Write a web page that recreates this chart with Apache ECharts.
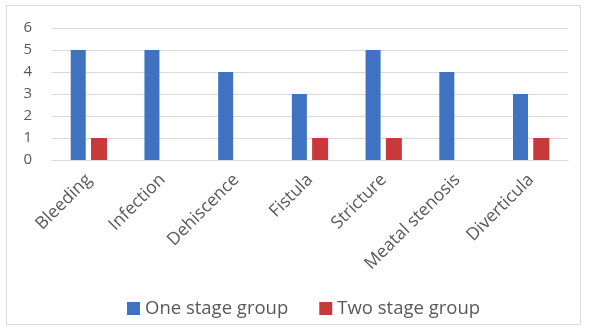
<!DOCTYPE html>
<html>
<head>
<meta charset="utf-8">
<script src="https://cdn.jsdelivr.net/npm/echarts@6/dist/echarts.min.js"></script>
<style>
  html, body { margin: 0; padding: 0; background: #fff; }
  #chart { width: 590px; height: 329px; }
  .frame { position: absolute; left: 6px; top: 5px; width: 575px; height: 320px; border: 1px solid #d9d9d9; box-sizing: border-box; pointer-events: none; }
</style>
</head>
<body>
<div id="chart"></div>
<div class="frame"></div>
<script>
  var categories = ['Bleeding', 'Infection', 'Dehiscence', 'Fistula', 'Stricture', 'Meatal stenosis', 'Diverticula'];
  var oneStage = [5, 5, 4, 3, 5, 4, 3];
  var twoStage = [1, null, null, 1, 1, null, 1];
  var yTicks = [0, 1, 2, 3, 4, 5, 6];

  var myChart = echarts.init(document.getElementById('chart'));
  var option = {
    animation: false,
    textStyle: { fontFamily: 'Open Sans' },
    grid: { left: 52, right: 22, top: 28, bottom: 169, containLabel: false },
    legend: {
      top: 294,
      left: 122,
      itemWidth: 13,
      itemHeight: 13,
      itemGap: 31,
      icon: 'rect',
      textStyle: { color: '#595959', fontSize: 18.5 },
      data: ['One stage group', 'Two stage group']
    },
    xAxis: {
      type: 'category',
      data: categories,
      axisLine: { lineStyle: { color: '#d9d9d9' } },
      axisTick: { show: false },
      axisLabel: { rotate: 45, color: '#595959', fontSize: 17.5, margin: 17, interval: 0 }
    },
    yAxis: {
      type: 'value',
      min: yTicks[0],
      max: yTicks[yTicks.length - 1],
      interval: 1,
      axisLine: { show: false },
      axisTick: { show: false },
      axisLabel: { color: '#595959', fontSize: 15, margin: 20 },
      splitLine: { lineStyle: { color: '#d9d9d9' } }
    },
    series: [
      {
        name: 'One stage group',
        type: 'bar',
        data: oneStage,
        barWidth: 15,
        barGap: '35%',
        itemStyle: { color: '#3F72C0' }
      },
      {
        name: 'Two stage group',
        type: 'bar',
        data: twoStage,
        barWidth: 16,
        itemStyle: { color: '#C9383A' }
      }
    ]
  };
  myChart.setOption(option);
</script>
</body>
</html>
